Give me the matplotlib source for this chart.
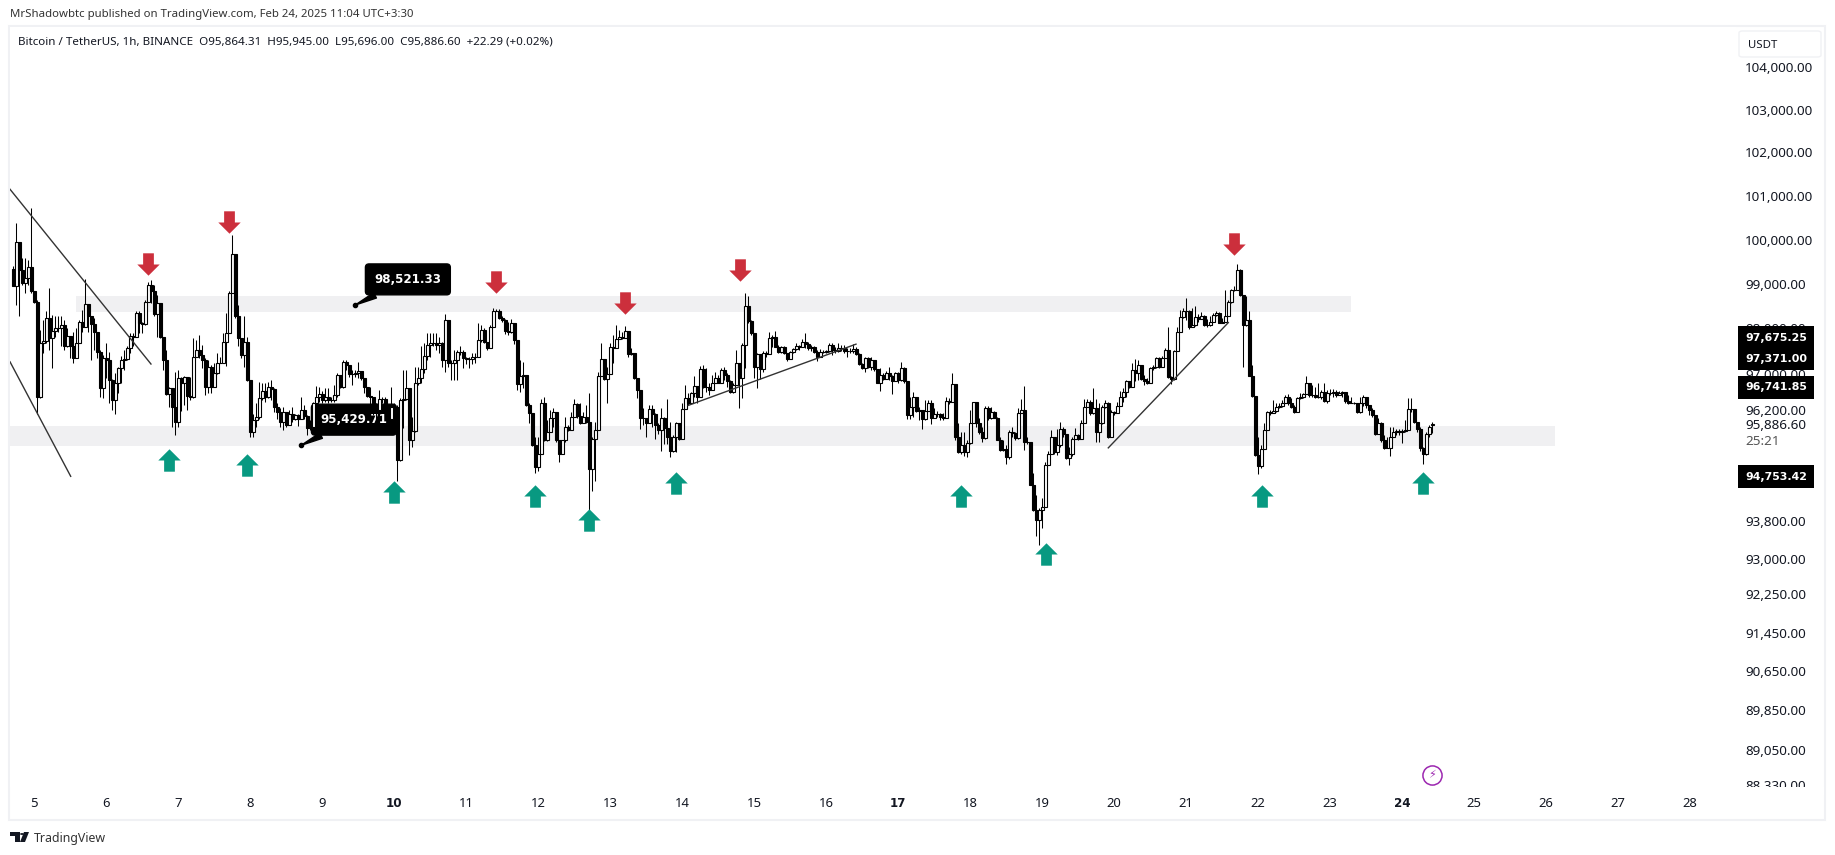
import numpy as np
import matplotlib
matplotlib.use("Agg")
import matplotlib.pyplot as plt
from matplotlib.path import Path
from matplotlib.patches import Rectangle, Polygon, Circle, FancyBboxPatch
from matplotlib.transforms import blended_transform_factory
from matplotlib.ticker import FixedLocator, FixedFormatter, NullLocator

plt.rcParams['font.family'] = ['Noto Sans', 'DejaVu Sans']

# hourly candles
first_open = 99330
last_open = 95864.31
closes = [98960,99950,99320,99020,99130,99380,98830,98600,96490,97670,97730,98230,97780,97950,98000,98000,98080,97610,97830,97600,
97350,97680,98150,98040,98540,98270,98100,97930,97480,96680,97340,97290,96860,96420,96790,97120,97300,97330,97560,97840,
97800,98340,98130,98100,98580,98980,98830,98330,98570,97820,97290,96550,96680,96270,95940,96900,96790,96920,96510,96480,
97360,97520,97410,97300,96710,97150,96710,97010,97240,97240,97700,97900,98790,99670,98270,97780,97410,97700,96860,95720,
95990,96040,96470,96610,96490,96710,96650,96270,96160,95940,96160,95870,96120,96010,96090,96010,96200,96070,95800,95830,
96350,96480,96550,96420,96480,96420,96420,96530,96970,96700,97260,97190,96990,96990,97020,97060,96900,96710,96510,96490,
96290,96200,96440,96440,96200,96010,96260,96270,95110,96420,96430,96680,95540,95740,96790,96900,97100,97380,97630,97670,
97680,97630,97670,97310,98190,97230,97230,97300,97480,97480,97340,97320,97320,97375,97370,97740,97965,97700,97560,98030,
98390,98400,98230,98190,97950,97910,98115,97740,96765,96935,96970,96310,96125,95430,94970,95240,96345,95535,95720,96015,
96160,95535,95240,95535,95830,95770,96050,96330,96065,95920,96050,95940,94910,95560,95770,96950,97320,96875,96985,97595,
97560,97755,97815,97780,97950,97430,97450,96900,96640,96015,96015,95905,96215,96110,95870,95770,96035,95815,95610,95300,
95610,95920,95575,96215,96455,96360,96565,96725,96490,97095,96710,96710,96640,96800,96895,96800,97080,96970,96825,96600,
96750,97240,96895,97625,98505,98155,97890,97155,97430,97095,97465,97435,97780,97800,97595,97485,97580,97450,97320,97485,
97535,97610,97580,97705,97655,97560,97580,97485,97375,97485,97485,97495,97630,97520,97505,97560,97560,97505,97505,97500,
97545,97430,97210,97120,97340,97135,97300,97095,96800,96970,96875,97005,96950,96825,97020,96860,97120,96825,96090,96270,
96480,96185,96200,95995,96185,96345,96015,96110,96110,96050,96015,96400,96365,96770,95610,95280,95430,95280,95485,95925,
96365,95905,95720,95595,96235,96015,96160,96035,95550,95330,95350,95170,95720,95700,95595,96140,96200,95500,95500,94580,
94030,93830,94030,94105,95005,95240,95610,95280,95430,95795,95670,95155,95240,95575,95650,95575,95905,96270,96380,96125,
96235,95720,95905,96255,96345,95610,96160,96140,96285,96490,96600,96825,96710,97080,97005,97190,96875,96825,96785,97120,
97140,97340,97155,97340,97520,96920,96875,97505,97930,98250,98400,98400,98040,98080,98265,98205,98280,98080,98080,98150,
98300,98355,98130,98150,98280,98580,98850,98865,99315,98750,98080,98190,96950,96505,95225,94985,95355,95770,96160,96140,
96185,96270,96285,96345,96480,96345,96270,96160,96455,96480,96550,96785,96525,96525,96490,96490,96600,96405,96580,96580,
96600,96525,96565,96600,96405,96360,96360,96360,96160,96345,96490,96310,96200,96090,95685,95920,95535,95375,95375,95610,
95720,95740,95720,95740,95760,96215,96215,95940,95795,95375,95240,95685,95830,95886.6]
highs = [99390,100380,99920,99580,99580,99540,100720,98830,98640,97970,98190,98380,98900,98300,98270,98280,98270,98190,98000,97830,
97930,98000,98190,98420,99110,98540,98270,98230,97930,97520,97410,97670,97480,96870,97010,97150,97380,97520,97600,97890,
97890,98380,98380,98150,98640,99050,99090,98980,98750,98570,97820,97520,96710,96680,97040,97080,96930,96950,96920,96930,
97780,97740,97850,97630,97340,97300,97190,97230,97450,97370,97890,98340,98830,100100,99670,98530,97780,98270,97820,96860,
96120,96350,96820,96790,96790,96820,96860,96680,96350,96240,96270,96160,96200,96270,96120,96120,96490,96310,96090,95980,
96380,96730,96710,96610,96680,96680,96490,96750,97010,96970,97300,97300,97190,97080,97080,97260,97040,96900,96710,96710,
96490,96350,96640,96490,96490,96310,96710,96350,96310,96460,97080,97080,96680,96050,97150,97150,97600,97670,97890,97890,
97890,97890,97820,97700,98330,98190,97300,97520,97520,97600,97520,97370,97370,97450,97450,98115,98080,98000,97700,98080,
98450,98430,98430,98280,98200,98150,98200,98115,97740,97300,97260,96970,96345,96125,95610,95610,96430,96480,95980,96200,
96235,96160,95535,95550,96050,95870,96160,96430,96345,96345,96160,96310,96580,95610,95940,97040,97670,97320,97155,97670,
97850,98080,97965,97930,98060,97950,97560,97465,96900,96640,96235,96030,96310,96310,96125,95905,96235,96050,96430,95940,
95650,95940,95920,96345,96750,96565,96600,96935,96725,97170,97190,97120,96785,96970,97040,96970,97120,97155,97005,96860,
96785,97520,97240,97670,98790,98715,98190,97890,97450,97430,97490,97490,97930,97850,97950,97630,97610,97610,97465,97505,
97560,97670,97630,97755,97905,97705,97630,97610,97520,97535,97520,97520,97670,97685,97580,97670,97630,97630,97560,97560,
97655,97580,97450,97225,97360,97360,97360,97300,97095,97120,97005,97065,97135,96970,97040,97040,97245,97155,96825,96490,
96600,96480,96270,96200,96420,96420,96420,96235,96185,96140,96125,96480,96455,97005,96770,95905,95720,95720,95535,96200,
96380,96365,96015,95830,96285,96285,96270,96185,96050,95610,95535,95430,95760,95830,95720,96235,96430,96725,95610,95500,
94840,94360,94070,94290,95060,95315,95760,95610,95795,95940,95830,95685,95390,95610,95815,95685,95980,96430,96430,96420,
96675,96430,96345,96310,96420,96380,96200,96185,96380,96625,96675,96860,96845,97240,97320,97300,97190,96970,96895,97155,
97190,97375,97360,97390,97560,98030,96935,97520,98030,98415,98450,98680,98415,98450,98490,98325,98375,98300,98205,98280,
98340,98400,98375,98230,98865,98640,98880,98940,99450,99330,98750,98715,98400,97190,96505,95610,95430,95905,96185,96200,
96420,96345,96345,96420,96530,96550,96455,96310,96490,96565,96580,96935,96785,96750,96710,96785,96640,96800,96640,96655,
96655,96640,96625,96625,96600,96530,96490,96380,96360,96490,96530,96490,96270,96235,96090,96015,95940,95650,95610,95830,
95830,95795,95795,95795,95980,96455,96455,96215,95940,95830,95390,95720,95870,95945]
lows = [98940,98530,98270,98980,98790,98980,98790,98570,96120,96460,97450,97670,97520,97120,97820,97910,97600,97520,97580,97340,
97240,97340,97680,97930,98040,97930,97300,97520,97340,96490,96460,96900,96350,96210,96120,96580,96790,97080,97300,97450,
97600,97820,97890,97890,98080,98580,98570,98270,97820,97780,97080,96530,96270,95830,95650,95830,96170,96310,96200,96420,
96460,97370,97340,97120,96530,96570,96570,96750,96990,97230,97230,97160,97890,98790,98230,97600,97340,97150,96840,95610,
95610,95830,96010,96420,96380,96460,96420,96160,96010,95830,95760,95830,95870,95940,95980,95850,96010,96010,95650,95760,
95800,96310,96380,96350,96380,96350,96380,96380,96490,96680,96680,97080,96930,96750,96920,96900,96860,96570,96490,96310,
96090,95680,96160,96350,96050,95900,95830,96200,94650,95090,95800,96420,95230,95390,95720,96750,96790,97010,97300,97370,
97600,97520,97450,97150,97040,97150,96860,96860,96860,97410,97120,97210,97120,97210,97230,97370,97700,97670,97520,97560,
98030,98380,98200,98150,97880,97850,97890,97650,96640,96600,96680,96290,95905,95410,94840,94875,95240,95520,95520,95720,
95830,95500,95060,95240,95500,95740,95760,96050,96035,95890,95920,95905,94030,94435,94650,95770,96950,96860,96345,96985,
97225,97595,97755,97755,97780,97375,97410,96875,96455,95795,95870,95610,95905,95830,95575,95685,95315,95465,95465,95170,
95280,95280,95550,95575,96215,96310,96345,96490,96345,96490,96675,96600,96530,96640,96785,96785,96800,96860,96710,96565,
96580,96750,96235,96455,97120,98115,97850,96895,96680,96875,97040,97375,97435,97595,97580,97450,97465,97435,97285,97320,
97465,97520,97520,97580,97560,97520,97505,97450,97285,97360,97450,97450,97485,97410,97465,97485,97505,97450,97355,97450,
97465,97410,97190,97095,97040,97120,97080,97065,96785,96625,96860,96875,96860,96550,96825,96800,96845,96800,95995,95995,
96050,96160,95980,95795,95980,96185,95890,96015,96050,95980,95980,96015,96330,96365,95535,95260,95240,95205,95170,95465,
95905,95830,95685,95500,95575,95980,96000,96015,95535,95300,95315,95020,95130,95610,95535,95575,96125,95330,95465,94565,
94010,93480,93300,93660,94105,95005,95240,95240,95225,95390,95610,95130,95005,95205,95575,95535,95575,95905,96255,96090,
96110,95500,95500,95890,96235,95595,95610,96090,96125,96285,96380,96490,96675,96710,96825,96860,96860,96750,96770,96800,
97080,97120,97120,97155,97340,96900,96770,96860,97505,97930,98230,98190,97980,98030,98055,98150,98230,98055,98040,98055,
98150,98280,98115,98115,98150,98280,98565,98830,98865,98715,97155,98055,96935,96490,95205,94815,94950,95355,95760,96090,
96140,96160,96235,96270,96345,96310,96235,96140,96160,96435,96455,96550,96490,96490,96455,96455,96435,96380,96345,96525,
96490,96490,96525,96490,96345,96330,96345,96330,96140,96140,96285,96235,96090,96050,95650,95685,95500,95355,95370,95190,
95610,95650,95650,95480,95720,95760,96160,95905,95720,95315,95035,95225,95610,95696]

zone_top = [98730, 95850]
zone_bottom = [98370, 95410]
zone_from = [5.583, 4.667]
zone_to = [23.29, 26.125]

trend_days = [[4.667, 6.625], [4.667, 5.51], [14.087, 16.417], [19.921, 21.588]]
trend_prices = [[101150, 97210], [97260, 94760], [96300, 97650], [95375, 98130]]

down_days = [6.59, 7.71, 11.42, 13.21, 14.80, 21.67]
down_prices = [99445, 100400, 99040, 98570, 99310, 99900]
up_days = [6.88, 7.96, 10.00, 11.96, 12.71, 13.92, 17.88, 19.05, 22.05, 24.29]
up_prices = [95110, 95000, 94420, 94340, 93820, 94610, 94340, 93100, 94340, 94610]

callout_days = [9.46, 8.71]
callout_prices = [98521.33, 95429.71]

price_ticks = [104000, 103000, 102000, 101000, 100000, 99000, 98000, 97000, 96200, 95886.6,
               93800, 93000, 92250, 91450, 90650, 89850, 89050, 88330]
price_tags = [97675.25, 97371.00, 96741.85, 94753.42]
tag_at = [97785, 97331, 96694, 94753.42]  # the tags push each other apart on the scale
countdown_at = 95503
flash_day, flash_price = 24.417, 88540
day_ticks = list(range(5, 29))
bold_days = [10, 17, 24]

W, H = 1835, 855
BOLD = ['DejaVu Sans']


def fx(px):
    return px / W


def fy(py):
    return 1 - py / H


fig = plt.figure(figsize=(W / 100, H / 100), dpi=100)
ax = fig.add_axes([fx(10), fy(787), fx(1736) - fx(10), fy(27) - fy(787)])
ax.set_yscale('log')
ax.set_ylim(88299, 104950)
ax.set_xlim(4.667, 4.667 + 1726 / 72)
for s in ax.spines.values():
    s.set_visible(False)

# outer frame
fig.add_artist(Rectangle((fx(9), fy(820)), fx(1825) - fx(9), fy(26) - fy(820), fill=False,
                         edgecolor='#F0F1F4', linewidth=1.5, transform=fig.transFigure, zorder=-1))

# zones
for a, b, t, l in zip(zone_from, zone_to, zone_top, zone_bottom):
    ax.fill_between([a, b], [l, l], [t, t], color='#F0F0F2', linewidth=0, zorder=1)
ax.axhline(closes[-1], color='white', linewidth=0.8, linestyle=':', xmax=0.895, zorder=1.2)

# callouts sit under the candles
for d, p in zip(callout_days, callout_prices):
    ax.annotate(f'{p:,.2f}', xy=(d, p), xytext=(38, 18.5), textcoords='offset points', color='white',
                fontsize=8.6, fontweight='bold', family=BOLD, ha='center', va='center', zorder=2,
                bbox=dict(boxstyle='round,pad=0.75,rounding_size=0.3', fc='black', ec='black'),
                arrowprops=dict(arrowstyle='wedge,tail_width=0.5', color='black', shrinkA=0, shrinkB=0))
ax.scatter(callout_days, callout_prices, s=9, color='black', zorder=2)

# candles
closes = np.array(closes, dtype=float)
highs = np.array(highs, dtype=float)
lows = np.array(lows, dtype=float)
opens = np.concatenate([[first_open], closes[:-1]])
opens[-1] = last_open
t = 5 + (13.5 - 34) / 72 + np.arange(len(closes)) / 24
up = closes >= opens
ax.vlines(t, lows, highs, color='black', linewidth=0.75, zorder=3)
ax.bar(t, np.abs(closes - opens), bottom=np.minimum(opens, closes), width=0.95 / 24,
       color=np.where(up, 'white', 'black'), edgecolor='black', linewidth=0.8, zorder=3.2)

for d, p in zip(trend_days, trend_prices):
    ax.plot(d, p, color='#333333', linewidth=1.0, zorder=3.5)

# arrows
arrow_up = Path([(-1, 0), (0, 1), (1, 0), (0.48, 0), (0.48, -1), (-0.48, -1), (-0.48, 0), (-1, 0)], closed=True)
arrow_down = Path([(-1, 0), (0, -1), (1, 0), (0.48, 0), (0.48, 1), (-0.48, 1), (-0.48, 0), (-1, 0)], closed=True)
ax.scatter(down_days, down_prices, marker=arrow_down, s=260, color='#CC2F3C', linewidths=0, zorder=4)
ax.scatter(up_days, up_prices, marker=arrow_up, s=260, color='#089981', linewidths=0, zorder=4)

# axes
ax.yaxis.tick_right()
ax.yaxis.set_major_locator(FixedLocator(price_ticks))
ax.yaxis.set_major_formatter(FixedFormatter([f'{p:,.2f}' for p in price_ticks]))
ax.yaxis.set_minor_locator(NullLocator())
ax.tick_params(axis='y', length=0, pad=6.5, labelsize=9.7, labelcolor='#131722')
ax.set_xticks(day_ticks)
ax.set_xticklabels([str(d) for d in day_ticks])
ax.tick_params(axis='x', length=0, pad=7, labelsize=9.4, labelcolor='#131722')
for lab, d in zip(ax.get_xticklabels(), day_ticks):
    if d in bold_days:
        lab.set_family(BOLD)
        lab.set_fontweight('bold')
        lab.set_fontsize(8.6)

# price tags on the scale
tr = blended_transform_factory(fig.transFigure, ax.transData)
for p, y in zip(price_tags, tag_at):
    ax.text(fx(1745), y, f'{p:,.2f}', transform=tr, color='white', fontsize=7.9, fontweight='bold',
            family=BOLD, va='center', ha='left', clip_on=False, zorder=7,
            bbox=dict(boxstyle='square,pad=0.62', fc='black', ec='black', linewidth=0))
ax.text(fx(1745), countdown_at, '25:21', transform=tr, color='#555555', fontsize=9.7, va='center', ha='left',
        clip_on=False)

# hide the part of the last price label that runs below the pane
fig.add_artist(Rectangle((fx(1737), fy(795)), fx(1824) - fx(1737), fy(787) - fy(795), facecolor='white',
                         edgecolor='none', transform=fig.transFigure, zorder=6))

# currency box
fig.add_artist(FancyBboxPatch((fx(1739), fy(57)), fx(1821) - fx(1739), fy(31) - fy(57),
                              boxstyle='round,pad=0,rounding_size=0.002', facecolor='white', edgecolor='#F0F1F4',
                              transform=fig.transFigure, zorder=2))
fig.text(fx(1748), fy(45), 'USDT', fontsize=8.2, color='#131722', va='center', ha='left', zorder=3)

# header texts
fig.text(fx(10), fy(15), 'MrShadowbtc published on TradingView.com, Feb 24, 2025 11:04 UTC+3:30',
         fontsize=8.2, color='#333333', va='center', ha='left')
fig.text(fx(18), fy(41.5), 'Bitcoin / TetherUS, 1h, BINANCE  O95,864.31  H95,945.00  L95,696.00  C95,886.60  +22.29 (+0.02%)',
         fontsize=8.37, color='#131722', va='center', ha='left')

# flash icon
ax.scatter([flash_day], [flash_price], s=190, facecolor='white', edgecolor='#9C27B0', linewidth=1.1, zorder=5)
ax.text(flash_day, flash_price, '\u26a1', fontsize=8, color='#9C27B0', ha='center', va='center',
        family='DejaVu Sans', zorder=6)

# logo and footer
logo = dict(facecolor='#131722', edgecolor='none', transform=fig.transFigure)
fig.add_artist(Polygon([(fx(10), fy(832)), (fx(19.5), fy(832)), (fx(19.5), fy(842)), (fx(14.5), fy(842)),
                        (fx(14.5), fy(836)), (fx(10), fy(836))], **logo))
fig.add_artist(Polygon([(fx(24), fy(832)), (fx(29), fy(832)), (fx(25), fy(842)), (fx(20), fy(842))], **logo))
fig.add_artist(Circle((fx(22), fy(834)), 2 / W, **logo))
fig.text(fx(34), fy(838), 'TradingView', fontsize=8.9, color='#333333', va='center', ha='left')

fig.savefig('out.png', dpi=100)
